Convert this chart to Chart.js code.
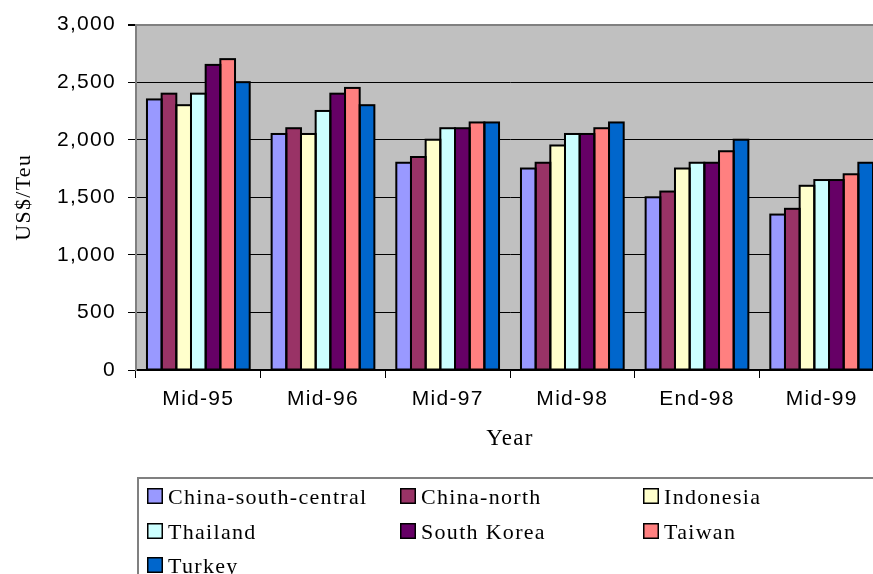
<!DOCTYPE html>
<html><head><meta charset="utf-8">
<script src="https://cdn.jsdelivr.net/npm/chart.js@4/dist/chart.umd.min.js"></script>
<style>
html,body{margin:0;padding:0;background:#fff;overflow:hidden;width:873px;height:574px}
#wrap{width:888px;height:574px}
</style></head>
<body><div id="wrap"><canvas id="c" width="888" height="574"></canvas></div>
<script>
const categories = ['Mid-95','Mid-96','Mid-97','Mid-98','End-98','Mid-99'];
const seriesNames = ['China-south-central','China-north','Indonesia','Thailand','South Korea','Taiwan','Turkey'];
const chinaSouthCentral = [2350,2050,1800,1750,1500,1350];
const chinaNorth        = [2400,2100,1850,1800,1550,1400];
const indonesia         = [2300,2050,2000,1950,1750,1600];
const thailand          = [2400,2250,2100,2050,1800,1650];
const southKorea        = [2650,2400,2100,2050,1800,1650];
const taiwan            = [2700,2450,2150,2100,1900,1700];
const turkey            = [2500,2300,2150,2150,2000,1800];
const yTickValues = [0,500,1000,1500,2000,2500,3000];
const xTitle = 'Year';
const yTitle = 'US$/Teu';

const seriesValues = [chinaSouthCentral, chinaNorth, indonesia, thailand, southKorea, taiwan, turkey];
const seriesColors = ['#9999FF','#993366','#FFFFCC','#CCFFFF','#660066','#FF8080','#0066CC'];

const SPACING = '1.3px';

const setupPlugin = {
  id: 'setup',
  beforeDraw(chart) {
    const {ctx, chartArea: a} = chart;
    ctx.letterSpacing = SPACING;
    ctx.save();
    ctx.fillStyle = '#C0C0C0';
    ctx.fillRect(a.left, a.top, a.right - a.left, a.bottom - a.top);
    ctx.restore();
  },
  afterDatasetsDraw(chart) {
    // black outline around every bar, drawn from the bar elements' own geometry
    const ctx = chart.ctx;
    ctx.save();
    ctx.strokeStyle = '#000';
    ctx.lineWidth = 2;
    chart.data.datasets.forEach((ds, i) => {
      chart.getDatasetMeta(i).data.forEach(bar => {
        const p = bar.getProps(['x', 'y', 'base', 'width']);
        const l = p.x - p.width / 2, t = Math.min(p.y, p.base), h = Math.abs(p.base - p.y);
        ctx.strokeRect(l, t, p.width, h);
      });
    });
    ctx.restore();
  },
  afterDraw(chart) {
    const ctx = chart.ctx;
    ctx.save();
    ctx.strokeStyle = '#808080';
    ctx.lineWidth = 2;
    ctx.strokeRect(138, 478, 800, 200);
    const colX = [147, 400, 643];
    const rowY = [488, 523, 557];
    ctx.font = '22px "Liberation Serif", "Times New Roman", serif';
    ctx.letterSpacing = SPACING;
    ctx.textBaseline = 'alphabetic';
    ctx.textAlign = 'left';
    chart.data.datasets.forEach((ds, i) => {
      const x = colX[i % 3], y = rowY[Math.floor(i / 3)];
      ctx.fillStyle = ds.backgroundColor;
      ctx.fillRect(x, y, 16, 16);
      ctx.strokeStyle = '#000';
      ctx.lineWidth = 1.5;
      ctx.strokeRect(x + 0.75, y + 0.75, 14.5, 14.5);
      ctx.fillStyle = '#000';
      ctx.fillText(ds.label, x + 21, y + 16);
    });
    ctx.restore();
  }
};

new Chart(document.getElementById('c'), {
  type: 'bar',
  data: {
    labels: categories,
    datasets: seriesNames.map((name, i) => ({
      label: name,
      data: seriesValues[i],
      backgroundColor: seriesColors[i],
      borderWidth: 0,
      categoryPercentage: 0.824,
      barPercentage: 1.0
    }))
  },
  options: {
    responsive: false,
    animation: false,
    events: [],
    layout: { padding: { top: 23, right: 4, left: 0, bottom: 114 } },
    plugins: { legend: { display: false }, tooltip: { enabled: false } },
    scales: {
      x: {
        offset: true,
        grid: { offset: true, drawOnChartArea: false, drawTicks: true, tickLength: 8, tickColor: '#000', tickWidth: 1 },
        border: { display: true, color: '#000', width: 1.5 },
        ticks: { color: '#000', padding: 9, font: { family: '"Liberation Sans", Arial, sans-serif', size: 21 }, maxRotation: 0, autoSkip: false },
        title: { display: true, text: xTitle, color: '#000', padding: { top: 0, bottom: 7 }, font: { family: '"Liberation Serif", "Times New Roman", serif', size: 23 } },
        afterFit(scale) { scale.height = 90; }
      },
      y: {
        min: 0, max: 3000,
        afterBuildTicks(scale) { scale.ticks = yTickValues.map(v => ({ value: v })); },
        grid: {
          color: (c) => (c.tick && c.tick.value === 3000) ? '#808080' : '#000',
          lineWidth: (c) => (c.tick && c.tick.value === 3000) ? 2 : 1,
          tickColor: '#000', tickLength: 8, drawTicks: true
        },
        border: { display: true, color: '#808080', width: 2 },
        ticks: {
          color: '#000', padding: 12,
          font: { family: '"Liberation Sans", Arial, sans-serif', size: 21 },
          callback: (v) => Number(v).toLocaleString('en-US')
        },
        title: { display: true, text: yTitle, color: '#000', padding: { top: 11, bottom: 0 }, font: { family: '"Liberation Serif", "Times New Roman", serif', size: 22 } },
        afterFit(scale) { scale.width = 136; }
      }
    }
  },
  plugins: [setupPlugin]
});
</script>
</body></html>
